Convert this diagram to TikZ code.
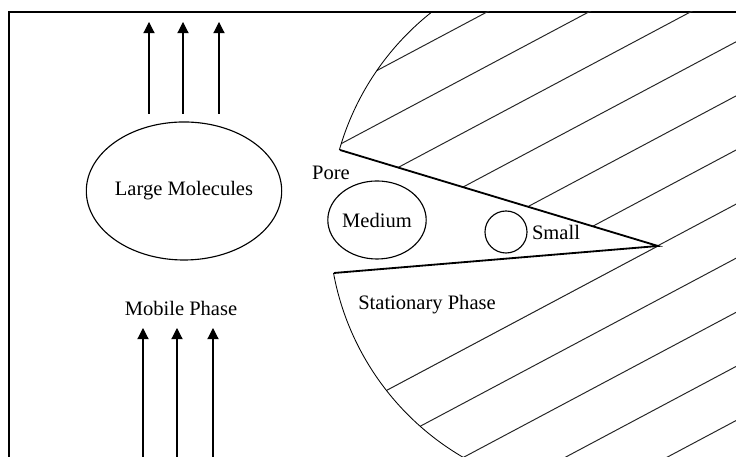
\documentclass[tikz,border=0pt]{standalone}
\usepackage{fontspec}
\setmainfont{Liberation Serif}
\usetikzlibrary{arrows.meta, shapes.geometric, positioning}

\begin{document}
\begin{tikzpicture}[>={Triangle[length=8pt,width=8pt]}, x=0.025cm, y=0.025cm,
    lbl/.style={font=\fontsize{14.6}{17}\selectfont, inner sep=0pt},
    mol/.style={draw, ellipse, line width=0.8pt, inner sep=0pt, font=\fontsize{14.6}{17}\selectfont},
    hatch/.style={line width=0.7pt, black!85},
    flow/.style={->, line width=0.8pt}]

    \useasboundingbox (0,0) rectangle (736,457);

    % =================================================================
    % 1. MAIN POINTS
    % =================================================================
    % bead (stationary phase) centre
    \coordinate (O) at (599,233);
    % pore: upper corner, tip, lower corner
    \coordinate (poreTop) at (340,307);
    \coordinate (poreTip) at (658,211);
    \coordinate (poreBot) at (334,184);
    % where the hatch line through the tip meets the bead
    \coordinate (tipFoot) at (386.4,66.5);

    % =================================================================
    % 2. FRAME
    % =================================================================
    \draw[line width=0.9pt] (9,0) -- (9,445) -- (736,445);

    % =================================================================
    % 3. STATIONARY PHASE (hatched bead with a pore cut in it)
    % =================================================================
    \begin{scope}
        \clip (0,0) rectangle (736,445);
        \clip (O) circle (270);
        \foreach \k in {0,...,11} {
            \pgfmathsetmacro\xo{487+101.7*\k}
            \draw[hatch] (\xo+200,551.4) -- (\xo-1000,-87);
        }
    \end{scope}

    % empty the pore and the label zone below it
    \fill[white] (poreTop) -- (poreTip) -- (tipFoot) -- (300,66.5) -- (300,307) -- cycle;
    \draw[hatch] (poreTip) -- (tipFoot);

    % outline of the bead
    \begin{scope}
        \clip (0,0) rectangle (736,445);
        \draw[line width=0.6pt] (O) ++(164.1:270) arc[start angle=164.1, end angle=122, radius=270];
        \draw[line width=0.6pt] (O) ++(190.5:270) arc[start angle=190.5, end angle=246, radius=270];
    \end{scope}

    % walls of the pore
    \draw[line width=1.3pt] (poreTop) -- (poreTip) -- (poreBot);

    % =================================================================
    % 4. MOLECULES
    % =================================================================
    \node[mol, minimum width=4.6cm, minimum height=3.45cm] (large) at (184,266) {Large Molecules};
    \node[mol, minimum width=2.4cm, minimum height=1.95cm] (medium) at (377,237) {Medium};
    \node[draw, circle, line width=0.8pt, minimum size=1.05cm, inner sep=0pt] (small) at (506,225) {};

    % =================================================================
    % 5. FLOW ARROWS
    % =================================================================
    \foreach \x in {149,183,219} {
        \coordinate (outS) at (\x,343);
        \coordinate (outE) at (\x,435);
        \draw[flow] (outS) -- (outE);
    }
    \foreach \x in {143,177,213} {
        \coordinate (inS) at (\x,0);
        \coordinate (inE) at (\x,129);
        \draw[flow] (inS) -- (inE);
    }

    % =================================================================
    % 6. LABELS
    % =================================================================
    \node[lbl, right=3pt of small] (smallLbl) {Small};
    \node[lbl] (pore) at (331,284) {Pore};
    \node[lbl] (mobile) at (181,149) {Mobile Phase};
    \node[lbl] (stationary) at (427,152) {Stationary Phase};

\end{tikzpicture}
\end{document}
